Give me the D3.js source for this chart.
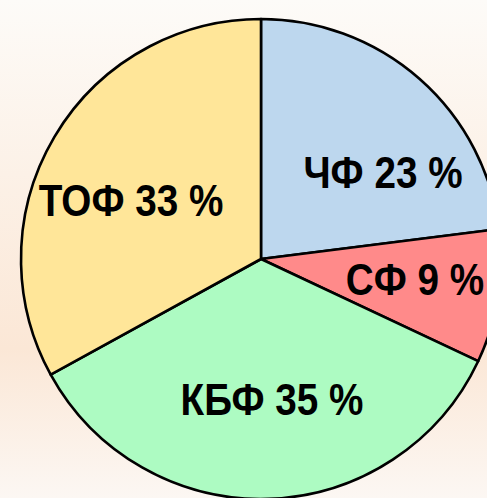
<!DOCTYPE html>
<html><head><meta charset="utf-8">
<script src="https://cdn.jsdelivr.net/npm/d3@7"></script>
<style>html,body{margin:0;padding:0;overflow:hidden;}</style>
</head><body>
<svg id="chart" width="487" height="498"></svg>
<script>
const categories = ["ЧФ", "СФ", "КБФ", "ТОФ"];
const values = [23, 9, 35, 33];
const colors = ["#BDD7EE", "#FF8A8A", "#ADFBC2", "#FFE699"];
const labelPos = [[383, 188], [415, 295], [272, 415], [131, 216]];

const svg = d3.select("#chart");
const defs = svg.append("defs");
const grad = defs.append("linearGradient").attr("id", "bg").attr("x1", 0).attr("y1", 0).attr("x2", 0).attr("y2", 1);
grad.append("stop").attr("offset", "0%").attr("stop-color", "#FDFBF8");
grad.append("stop").attr("offset", "70%").attr("stop-color", "#FBE7D6");
grad.append("stop").attr("offset", "100%").attr("stop-color", "#FCF7F3");
svg.append("rect").attr("width", 487).attr("height", 498).attr("fill", "url(#bg)");

const cx = 261, cy = 259, r = 240;
const pie = d3.pie().sort(null).value(d => d.v);
const data = categories.map((c, i) => ({c, v: values[i], i}));
const arcs = pie(data);
const arc = d3.arc().innerRadius(0).outerRadius(r);
const g = svg.append("g").attr("transform", `translate(${cx},${cy})`);
g.selectAll("path").data(arcs).join("path")
  .attr("d", arc)
  .attr("fill", d => colors[d.data.i])
  .attr("stroke", "#000")
  .attr("stroke-width", 2.6)
  .attr("stroke-linejoin", "round");

svg.selectAll("text.lbl").data(arcs).join("text")
  .attr("class", "lbl")
  .attr("transform", d => `translate(${labelPos[d.data.i][0]},${labelPos[d.data.i][1]}) scale(0.86,1)`)
  .attr("text-anchor", "middle")
  .attr("font-family", "'Liberation Sans', Arial, sans-serif")
  .attr("font-weight", "bold")
  .attr("font-size", 45)
  .attr("fill", "#000")
  .text(d => `${d.data.c} ${d.data.v} %`);
</script>
</body></html>
